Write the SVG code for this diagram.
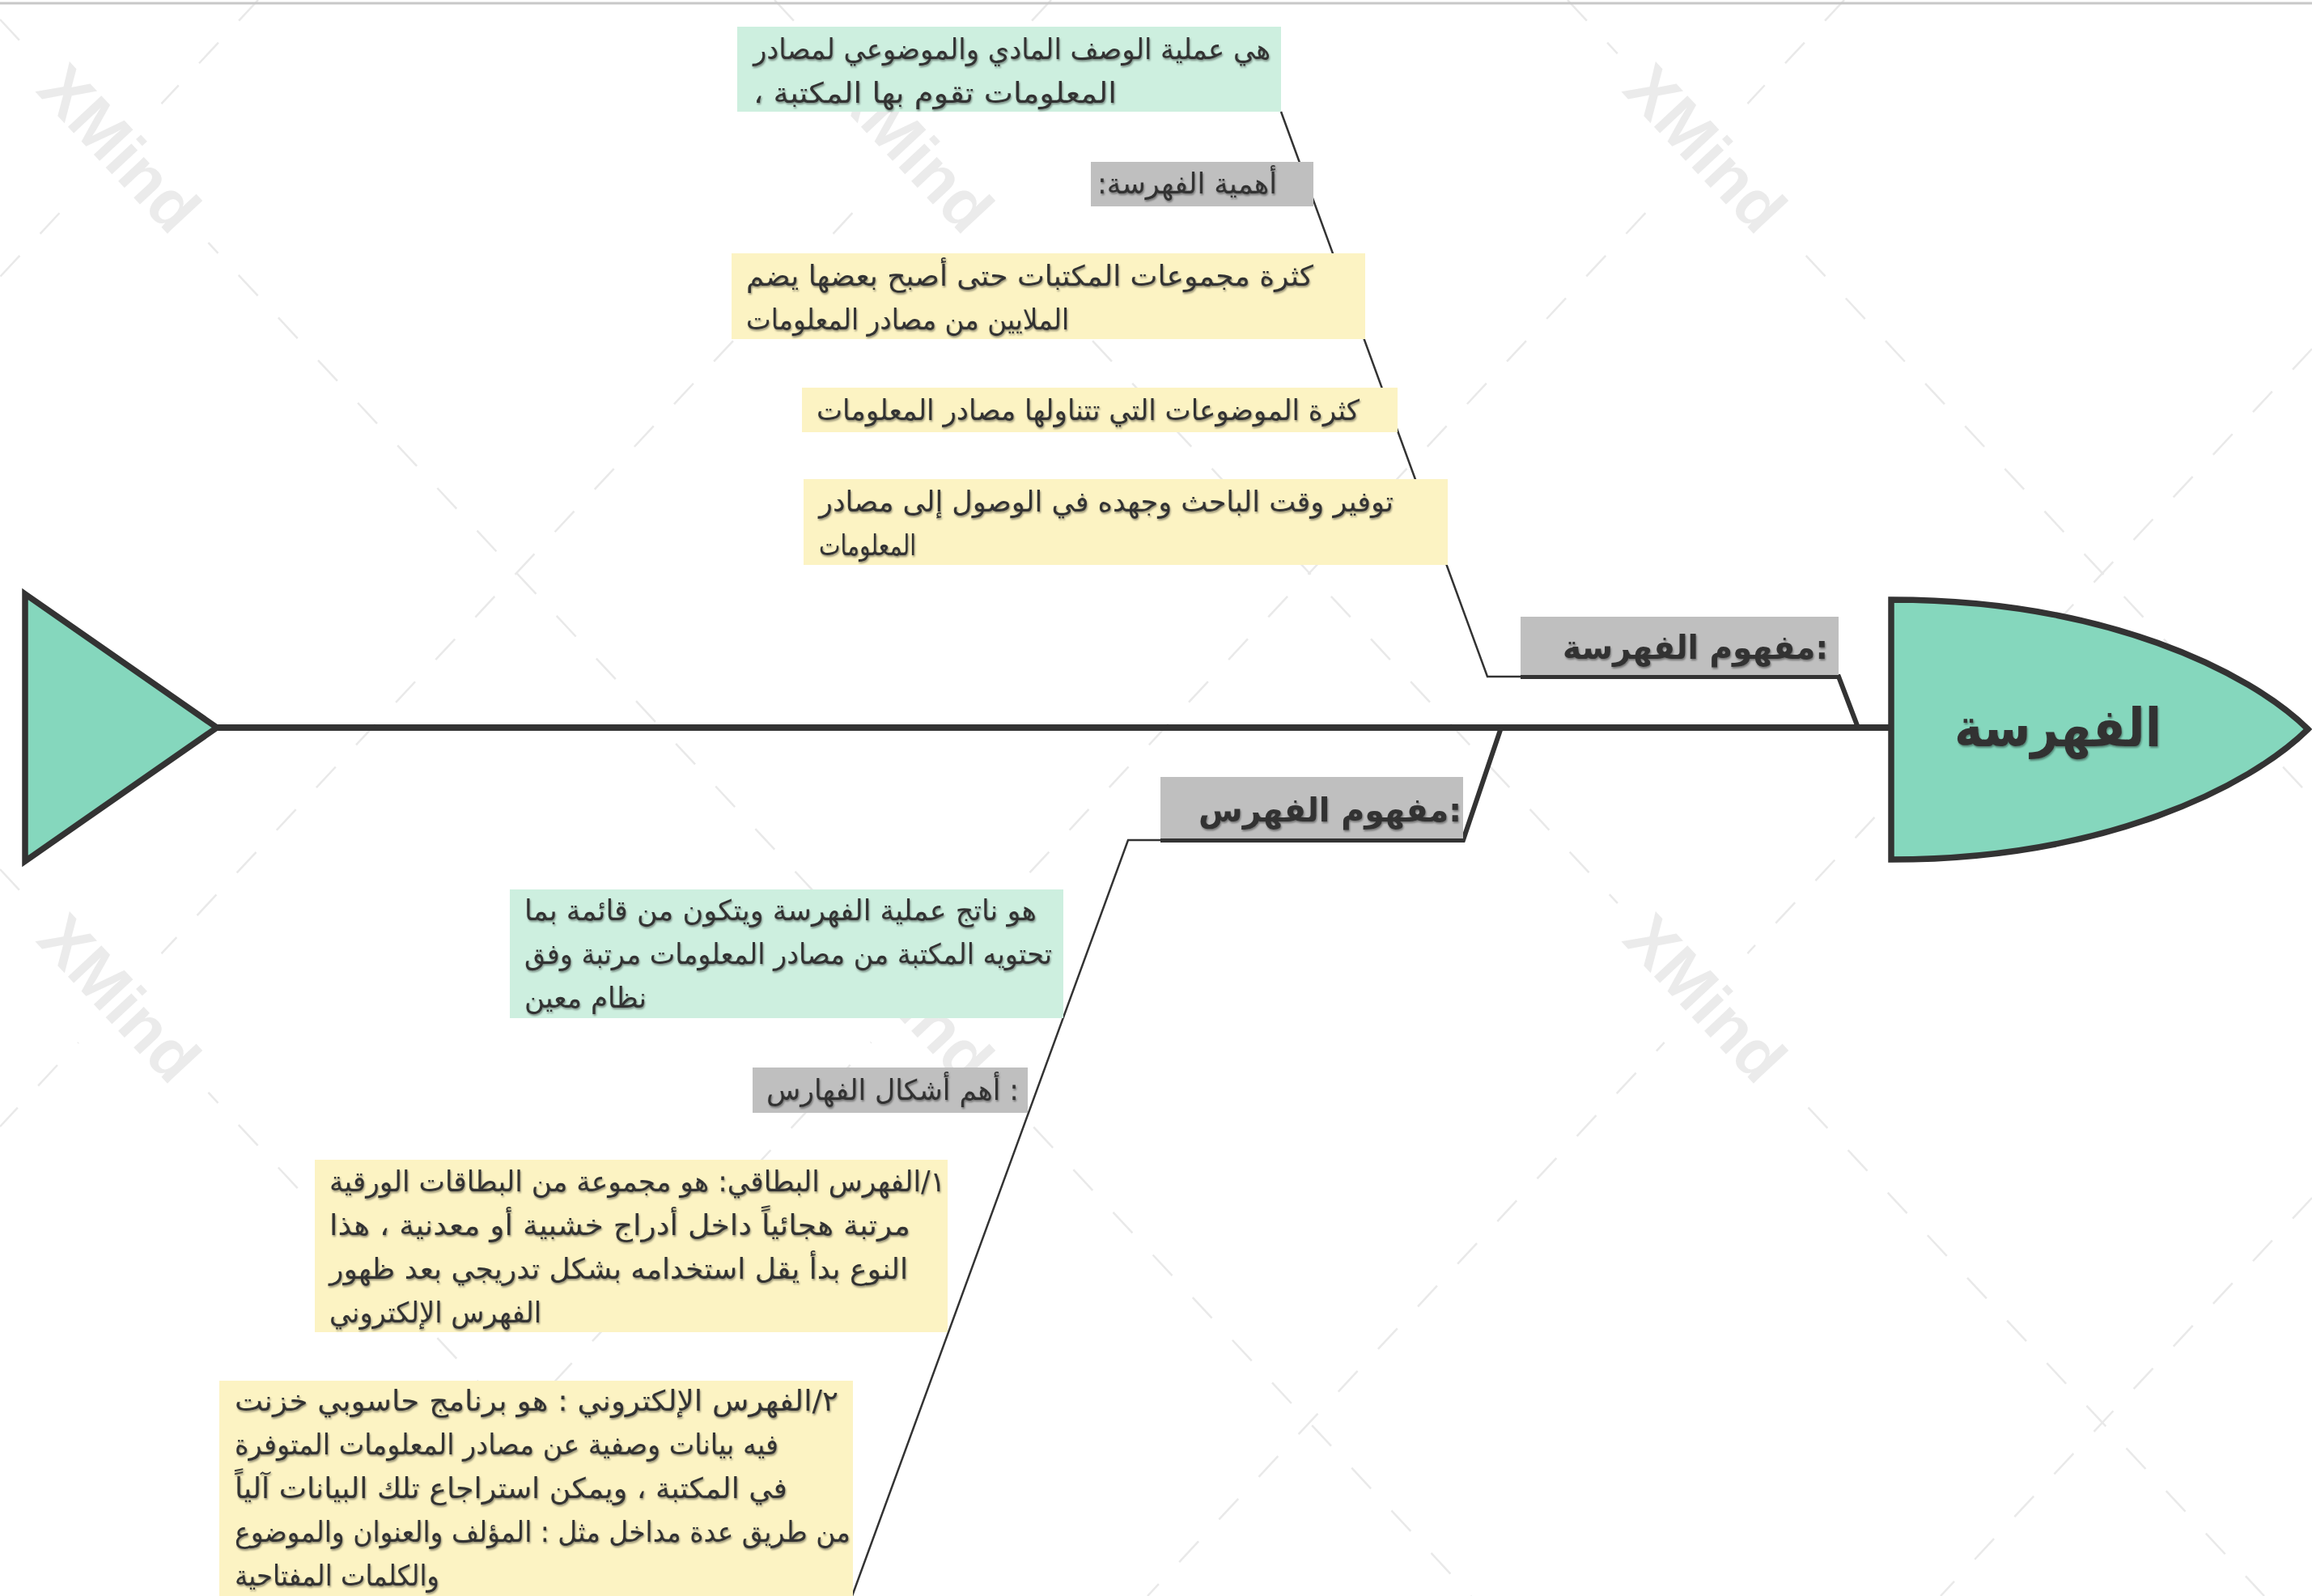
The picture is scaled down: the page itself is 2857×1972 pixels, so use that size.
<svg xmlns="http://www.w3.org/2000/svg" width="2857" height="1972" viewBox="0 0 2857 1972">
<defs>
<style>
.bg{fill:#ffffff}
.wm{font-family:"Liberation Sans",Arial,sans-serif;font-weight:bold;font-size:82px;fill:#ebebeb}
.lat{stroke:#e9e9e9;stroke-width:2.5;stroke-dasharray:35 37;fill:none}
.spine{stroke:#333333;stroke-width:8;fill:none}
.thick{stroke:#333333;stroke-width:6;fill:none;stroke-linejoin:miter}
.thin{stroke:#333333;stroke-width:2.5;fill:none}
.fishbody{fill:#85d7bd;stroke:#333333;stroke-width:7.5;stroke-linejoin:miter}
.green{fill:#cdefdf}
.yellow{fill:#fcf3c3}
.gray{fill:#bfbfbf}
.t{font-family:"DejaVu Sans",sans-serif;font-size:35px;fill:#333333;filter:url(#ts)}
.lbl{font-family:"DejaVu Sans",sans-serif;font-size:35px;fill:#333333;filter:url(#ts)}
.lblb{font-family:"DejaVu Sans",sans-serif;font-size:41px;font-weight:bold;fill:#333333;filter:url(#ts)}
.head{font-family:"DejaVu Sans",sans-serif;font-size:66px;font-weight:bold;fill:#333333;filter:url(#ts)}
</style>
<filter id="ts" x="-5%" y="-20%" width="110%" height="150%">
<feDropShadow dx="1" dy="2" stdDeviation="1.2" flood-color="#000000" flood-opacity="0.4"/>
</filter>
<mask id="wmgap" maskUnits="userSpaceOnUse" x="0" y="0" width="2857" height="1972">
<rect x="0" y="0" width="2857" height="1972" fill="#ffffff"/>
<rect x="-12" y="108" width="320" height="150" fill="#000000" transform="rotate(47 148 183)"/>
<rect x="968" y="108" width="320" height="150" fill="#000000" transform="rotate(47 1128 183)"/>
<rect x="1948" y="108" width="320" height="150" fill="#000000" transform="rotate(47 2108 183)"/>
<rect x="-12" y="1158" width="320" height="150" fill="#000000" transform="rotate(47 148 1233)"/>
<rect x="968" y="1158" width="320" height="150" fill="#000000" transform="rotate(47 1128 1233)"/>
<rect x="1948" y="1158" width="320" height="150" fill="#000000" transform="rotate(47 2108 1233)"/>
</mask>
</defs>
<rect class="bg" x="0" y="0" width="2857" height="1972"/>
<g id="watermark">
<g mask="url(#wmgap)">
<line class="lat" x1="0" y1="24" x2="1818" y2="1972"/>
<line class="lat" x1="957" y1="0" x2="2798" y2="1972"/>
<line class="lat" x1="1937" y1="0" x2="2857" y2="986"/>
<line class="lat" x1="0" y1="1074" x2="838" y2="1972"/>
<line class="lat" x1="319" y1="0" x2="0" y2="342"/>
<line class="lat" x1="1299" y1="0" x2="0" y2="1392"/>
<line class="lat" x1="2279" y1="0" x2="438" y2="1972"/>
<line class="lat" x1="2857" y1="431" x2="1418" y2="1972"/>
<line class="lat" x1="2857" y1="1480" x2="2398" y2="1972"/>
</g>
<text class="wm" x="148" y="212" text-anchor="middle" transform="rotate(47 148 183)">XMind</text>
<text class="wm" x="1128" y="212" text-anchor="middle" transform="rotate(47 1128 183)">XMind</text>
<text class="wm" x="2108" y="212" text-anchor="middle" transform="rotate(47 2108 183)">XMind</text>
<text class="wm" x="148" y="1262" text-anchor="middle" transform="rotate(47 148 1233)">XMind</text>
<text class="wm" x="1128" y="1262" text-anchor="middle" transform="rotate(47 1128 1233)">XMind</text>
<text class="wm" x="2108" y="1262" text-anchor="middle" transform="rotate(47 2108 1233)">XMind</text>
</g>
<line x1="0" y1="4" x2="2857" y2="4" stroke="#c8c8c8" stroke-width="3"/>
<g id="connectors">
<line class="spine" x1="266" y1="899" x2="2336" y2="899"/>
<polyline class="thick" points="2296,899 2272,836 1879,836"/>
<polyline class="thin" points="1879,836 1838,836 1583,138"/>
<polyline class="thick" points="1855,899 1808,1038 1434,1038"/>
<polyline class="thin" points="1434,1038 1394,1038 1053,1972"/>
</g>
<g id="tail">
<polygon class="fishbody" points="31,734 268,899 31,1064"/>
</g>
<g id="head">
<path class="fishbody" d="M2337,741 C2600,741 2780,830 2852,901 C2780,972 2600,1062 2337,1062 Z"/>
<text class="head" x="2415" y="922" textLength="256" lengthAdjust="spacingAndGlyphs">الفهرسة</text>
</g>
<g id="n-def-cataloging">
<rect class="green" x="911" y="33" width="672" height="105"/>
<text class="t" x="931" y="73" textLength="639" lengthAdjust="spacingAndGlyphs">&#x200E;هي عملية الوصف المادي والموضوعي لمصادر</text>
<text class="t" x="931" y="127" textLength="449" lengthAdjust="spacingAndGlyphs">&#x200E;، المعلومات تقوم بها المكتبة</text>
</g>
<g id="n-importance">
<rect class="gray" x="1348" y="200" width="275" height="55"/>
<text class="lbl" x="1356" y="239" textLength="222" lengthAdjust="spacingAndGlyphs">&#x200E;:أهمية الفهرسة</text>
</g>
<g id="n-imp1">
<rect class="yellow" x="904" y="313" width="783" height="106"/>
<text class="t" x="922" y="353" textLength="701" lengthAdjust="spacingAndGlyphs">&#x200E;كثرة مجموعات المكتبات حتى أصبح بعضها يضم</text>
<text class="t" x="922" y="407" textLength="399" lengthAdjust="spacingAndGlyphs">&#x200E;الملايين من مصادر المعلومات</text>
</g>
<g id="n-imp2">
<rect class="yellow" x="991" y="479" width="736" height="55"/>
<text class="t" x="1009" y="519" textLength="671" lengthAdjust="spacingAndGlyphs">&#x200E;كثرة الموضوعات التي تتناولها مصادر المعلومات</text>
</g>
<g id="n-imp3">
<rect class="yellow" x="993" y="592" width="796" height="106"/>
<text class="t" x="1012" y="632" textLength="710" lengthAdjust="spacingAndGlyphs">&#x200E;توفير وقت الباحث وجهده في الوصول إلى مصادر</text>
<text class="t" x="1012" y="686" textLength="120" lengthAdjust="spacingAndGlyphs">&#x200E;المعلومات</text>
</g>
<g id="n-concept-cataloging">
<rect class="gray" x="1879" y="762" width="393" height="72"/>
<text class="lblb" x="1931" y="814" textLength="328" lengthAdjust="spacingAndGlyphs">&#x200E;مفهوم الفهرسة:</text>
</g>
<g id="n-concept-catalog">
<rect class="gray" x="1434" y="960" width="374" height="76"/>
<text class="lblb" x="1481" y="1015" textLength="325" lengthAdjust="spacingAndGlyphs">&#x200E;مفهوم الفهرس:</text>
</g>
<g id="n-def-catalog">
<rect class="green" x="630" y="1099" width="684" height="159"/>
<text class="t" x="648" y="1137" textLength="633" lengthAdjust="spacingAndGlyphs">&#x200E;هو ناتج عملية الفهرسة ويتكون من قائمة بما</text>
<text class="t" x="648" y="1191" textLength="652" lengthAdjust="spacingAndGlyphs">&#x200E;تحتويه المكتبة من مصادر المعلومات مرتبة وفق</text>
<text class="t" x="648" y="1245" textLength="151" lengthAdjust="spacingAndGlyphs">&#x200E;نظام معين</text>
</g>
<g id="n-forms">
<rect class="gray" x="930" y="1319" width="340" height="56"/>
<text class="lbl" x="947" y="1359" textLength="312" lengthAdjust="spacingAndGlyphs">&#x200E;أهم أشكال الفهارس :</text>
</g>
<g id="n-card">
<rect class="yellow" x="389" y="1433" width="782" height="213"/>
<text class="t" x="407" y="1472" textLength="761" lengthAdjust="spacingAndGlyphs">&#x200E;١/الفهرس البطاقي: هو مجموعة من البطاقات الورقية</text>
<text class="t" x="407" y="1526" textLength="718" lengthAdjust="spacingAndGlyphs">&#x200E;مرتبة هجائياً داخل أدراج خشبية أو معدنية  ، هذا</text>
<text class="t" x="407" y="1580" textLength="715" lengthAdjust="spacingAndGlyphs">&#x200E;النوع بدأ يقل استخدامه بشكل تدريجي بعد ظهور</text>
<text class="t" x="407" y="1634" textLength="262" lengthAdjust="spacingAndGlyphs">&#x200E;الفهرس الإلكتروني</text>
</g>
<g id="n-electronic">
<rect class="yellow" x="271" y="1706" width="783" height="270"/>
<text class="t" x="290" y="1743" textLength="746" lengthAdjust="spacingAndGlyphs">&#x200E;٢/الفهرس الإلكتروني :  هو برنامج حاسوبي خزنت</text>
<text class="t" x="290" y="1797" textLength="672" lengthAdjust="spacingAndGlyphs">&#x200E;فيه بيانات وصفية عن مصادر المعلومات المتوفرة</text>
<text class="t" x="290" y="1851" textLength="683" lengthAdjust="spacingAndGlyphs">&#x200E;في المكتبة  ، ويمكن استراجاع تلك البيانات آلياً</text>
<text class="t" x="290" y="1905" textLength="761" lengthAdjust="spacingAndGlyphs">&#x200E;من طريق عدة مداخل مثل : المؤلف والعنوان والموضوع</text>
<text class="t" x="290" y="1959" textLength="253" lengthAdjust="spacingAndGlyphs">&#x200E;والكلمات المفتاحية</text>
</g>
</svg>
